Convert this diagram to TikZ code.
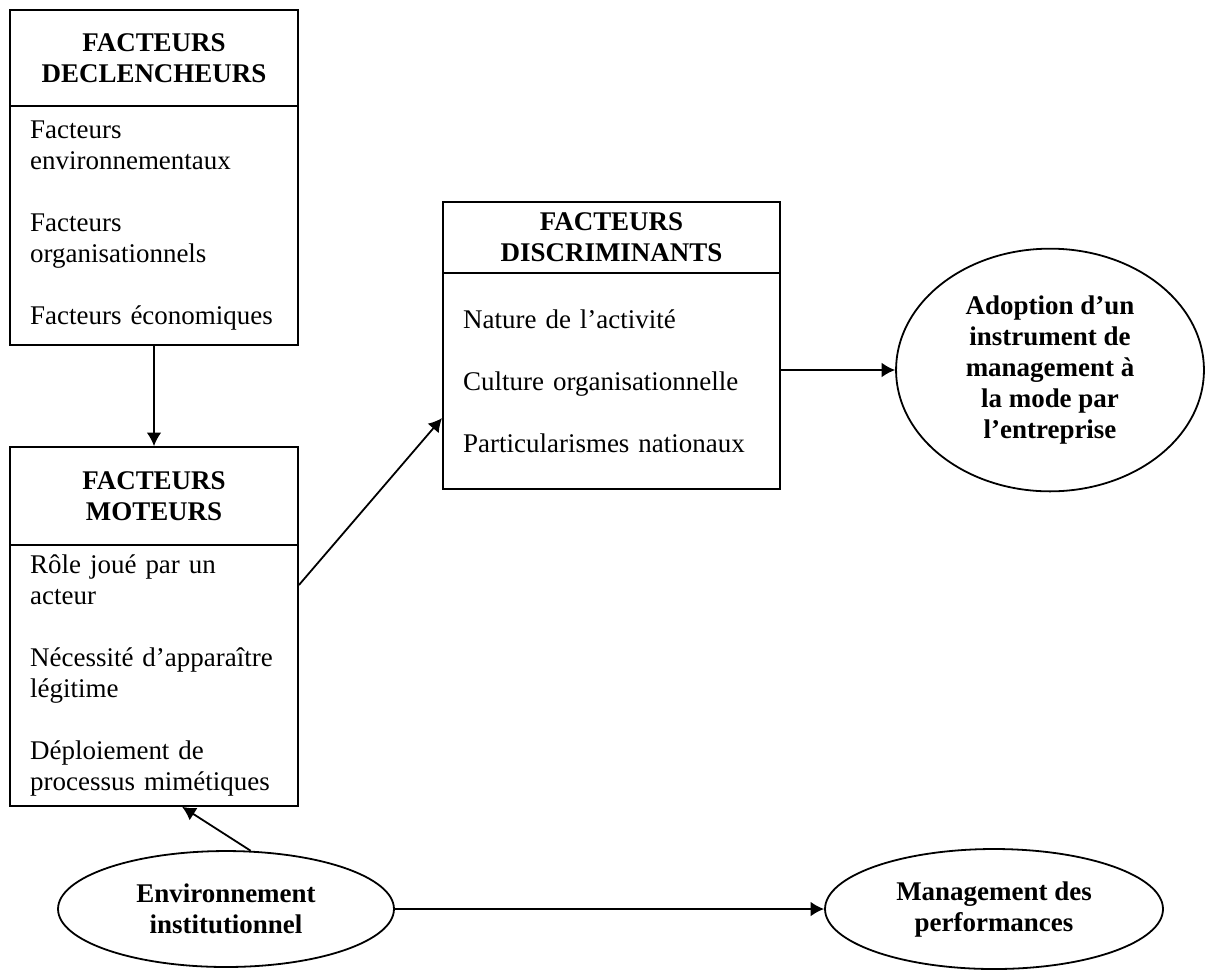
\documentclass[tikz,border=0pt]{standalone}
\usepackage{fontspec}
\setmainfont{Liberation Serif}
\usepackage{tikz}
\usetikzlibrary{shapes.geometric, arrows.meta, positioning}
\newcommand{\boxfont}{\fontsize{12}{13.8}\selectfont}
\tikzstyle{headbox} = [rectangle, minimum width=128.2pt, inner ysep=1pt, align=center, draw=black, line width=0.8pt, font=\boxfont\bfseries]
\tikzstyle{listbox} = [rectangle, text width=110.2pt, inner xsep=9pt, align=left, draw=black, line width=0.8pt, font=\boxfont]
\tikzstyle{outcome} = [ellipse, inner sep=0pt, align=center, draw=black, line width=0.8pt, font=\boxfont\bfseries]
\tikzstyle{arrow} = [line width=0.8pt, -{Latex[length=6pt, width=6.5pt]}]

\begin{document}
\begin{tikzpicture}[x=0.445pt, y=-0.445pt]
        \useasboundingbox (0,0) rectangle (1209,971);

        % Nodes
        \node (declhead) [headbox, minimum height=42.7pt] at (154,58) {FACTEURS\\DECLENCHEURS};
        \node (declbody) [listbox, minimum height=106.4pt, below=-0.8pt of declhead] {Facteurs\\environnementaux\\[13.8pt]Facteurs\\organisationnels\\[13.8pt]Facteurs économiques};
        \node (motehead) [headbox, minimum height=43.6pt] at (154,496) {FACTEURS\\MOTEURS};
        \node (motebody) [listbox, minimum height=116.1pt, below=-0.8pt of motehead] {Rôle joué par un\\acteur\\[13.8pt]Nécessité d’apparaître\\légitime\\[13.8pt]Déploiement de\\processus mimétiques};
        \node (dischead) [headbox, minimum width=150pt, minimum height=31.6pt] at (611.5,237.5) {FACTEURS\\DISCRIMINANTS};
        \node (discbody) [listbox, text width=132pt, minimum height=96.1pt, below=-0.8pt of dischead] {Nature de l’activité\\[13.8pt]Culture organisationnelle\\[13.8pt]Particularismes nationaux};
        \node (adopt) [outcome, minimum width=137pt, minimum height=108pt] at (1050,370) {Adoption d’un\\instrument de\\management à\\la mode par\\l’entreprise};
        \node (envinst) [outcome, minimum width=149.5pt, minimum height=51.6pt] at (226,909) {Environnement\\institutionnel};
        \node (mgmt) [outcome, minimum width=150.4pt, minimum height=53.4pt] at (994,909) {Management des\\performances};

        % Arrows
        \draw [arrow] (declbody) -- (motehead);
        \draw [arrow] ([yshift=-18.2pt]motebody.north east) -- ([yshift=-16.5pt]discbody.west);
        \draw [arrow] (discbody.east |- adopt.west) -- (adopt.west);
        \draw [arrow] (envinst.67) -- ([xshift=12.5pt]motebody.south);
        \draw [arrow] (envinst) -- (mgmt);

    \end{tikzpicture}
\end{document}
